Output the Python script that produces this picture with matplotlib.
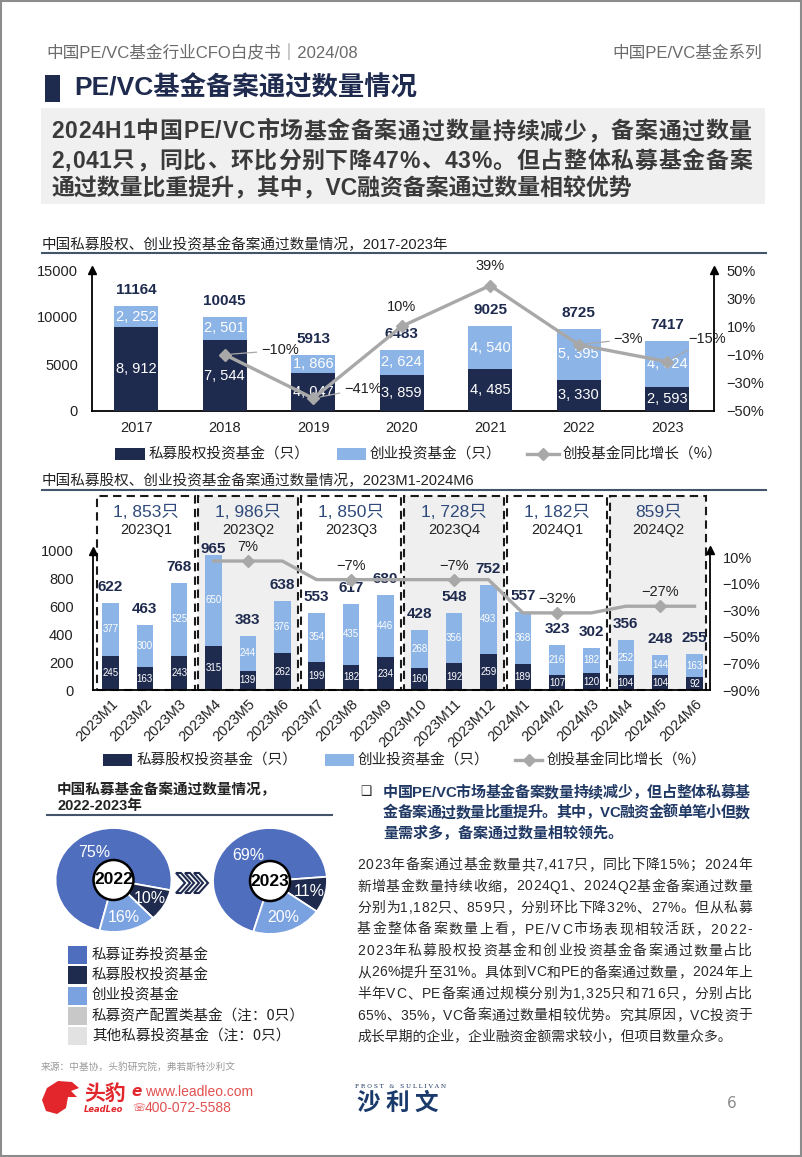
import matplotlib
matplotlib.use('Agg')
import matplotlib.pyplot as plt
import numpy as np
from matplotlib.patches import Rectangle, Polygon, Ellipse
from matplotlib.lines import Line2D
from matplotlib.font_manager import FontProperties

# ---------------- data ----------------
years = ['2017', '2018', '2019', '2020', '2021', '2022', '2023']
pe_year = [8912, 7544, 4047, 3859, 4485, 3330, 2593]
vc_year = [2252, 2501, 1866, 2624, 4540, 5395, 4824]
total_year = [11164, 10045, 5913, 6483, 9025, 8725, 7417]
vc_yoy_year = [np.nan, -10, -41, 10, 39, -3, -15]

months = ['2023M1', '2023M2', '2023M3', '2023M4', '2023M5', '2023M6',
          '2023M7', '2023M8', '2023M9', '2023M10', '2023M11', '2023M12',
          '2024M1', '2024M2', '2024M3', '2024M4', '2024M5', '2024M6']
pe_month = [245, 163, 243, 315, 139, 262, 199, 182, 234, 160, 192, 259, 189, 107, 120, 104, 104, 92]
vc_month = [377, 300, 525, 650, 244, 376, 354, 435, 446, 268, 356, 493, 368, 216, 182, 252, 144, 163]
total_month = [622, 463, 768, 965, 383, 638, 553, 617, 680, 428, 548, 752, 557, 323, 302, 356, 248, 255]
vc_yoy_month = [np.nan, np.nan, np.nan, 7, 7, 7, -7, -7, -7, -7, -7, -7, -32, -32, -32, -27, -27, -27]
quarters = ['2023Q1', '2023Q2', '2023Q3', '2023Q4', '2024Q1', '2024Q2']
quarter_totals = ['1, 853只', '1, 986只', '1, 850只', '1, 728只', '1, 182只', '859只']

pie_labels = ['私募证券投资基金', '私募股权投资基金', '创业投资基金',
              '私募资产配置类基金（注：0只）', '其他私募投资基金（注：0只）']
pie_2022 = [75, 10, 16]
pie_2023 = [69, 11, 20]

# ---------------- style ----------------
W, H = 802, 1157
fig = plt.figure(figsize=(W / 100, H / 100), dpi=100)
fig.patch.set_facecolor('white')
CJK = ['Noto Sans CJK SC', 'DejaVu Sans']
NUM = ['Liberation Sans', 'Noto Sans CJK SC', 'DejaVu Sans']
plt.rcParams['font.family'] = CJK
plt.rcParams['axes.unicode_minus'] = True

NAVY = '#1f2b4e'
LBLUE = '#8cb4e6'
MBLUE = '#4f6ebe'
PBLUE = '#7ba2e0'
LINEG = '#a8a8a8'
TXT = '#222222'

def fx(x):
    return x / W

def fy(y):
    return 1 - y / H

def rect(x0, y0, x1, y1):
    return [x0 / W, 1 - y1 / H, (x1 - x0) / W, (y1 - y0) / H]

renderer = fig.canvas.get_renderer()

def justify(s, x0, x1, y, size, family, weight='normal', color=TXT, full=True):
    fp = FontProperties(family=family, size=size, weight=weight)
    if not full:
        fig.text(fx(x0), fy(y), s, fontproperties=fp, color=color, va='center', ha='left')
        return
    widths = [renderer.get_text_width_height_descent(c, fp, ismath=False)[0] for c in s]
    gap = ((x1 - x0) - sum(widths)) / (len(s) - 1)
    x = x0
    for c, w in zip(s, widths):
        fig.text(fx(x), fy(y), c, fontproperties=fp, color=color, va='center', ha='left')
        x += w + gap

def fmt(v):
    return '{:,}'.format(v).replace(',', ', ')

def pct(v):
    return ('−' if v < 0 else '') + '{}%'.format(abs(int(v)))

# page border
fig.patches.append(Rectangle((1 / W, 1 / H), (W - 2) / W, (H - 2) / H, transform=fig.transFigure,
                             fill=False, ec='#8c8c8c', lw=1.5))

# ---------------- header ----------------
fig.text(fx(46), fy(53), '中国PE/VC基金行业CFO白皮书｜2024/08', fontsize=12, color='#6b6b6b',
         family=NUM, va='center', ha='left')
fig.text(fx(762), fy(53), '中国PE/VC基金系列', fontsize=12, color='#6b6b6b',
         family=NUM, va='center', ha='right')
fig.patches.append(Rectangle((fx(45), fy(102)), 15 / W, 27 / H, transform=fig.transFigure,
                             color='#1f2a4f', lw=0))
fig.text(fx(74), fy(88), 'PE/VC基金备案通过数量情况', fontsize=19, weight='bold', color='#1f2a4f',
         family=NUM, va='center', ha='left')
fig.patches.append(Rectangle((fx(41), fy(204)), (765 - 41) / W, 96 / H, transform=fig.transFigure,
                             color='#f0f0f0', lw=0))
hdr_lines = ['2024H1中国PE/VC市场基金备案通过数量持续减少，备案通过数量',
             '2,041只，同比、环比分别下降47%、43%。但占整体私募基金备案',
             '通过数量比重提升，其中，VC融资备案通过数量相较优势']
for k, (ln, yy) in enumerate(zip(hdr_lines, [132, 161, 189])):
    justify(ln, 51, 752, yy, 16.5, NUM, weight='bold', color='#3a3a3a', full=(k < 2))

# ---------------- chart 1 ----------------
fig.text(fx(42), fy(245), '中国私募股权、创业投资基金备案通过数量情况，2017-2023年', fontsize=10.5,
         color=TXT, family=NUM, va='center', ha='left')
fig.lines.append(Line2D([fx(42), fx(766)], [fy(253), fy(253)], transform=fig.transFigure,
                        color='#44546a', lw=1.5))

ax1 = fig.add_axes(rect(92, 270, 714, 411))
x1 = np.arange(len(years))
ax1.bar(x1, pe_year, width=0.5, color=NAVY, zorder=3)
ax1.bar(x1, vc_year, bottom=pe_year, width=0.5, color=LBLUE, zorder=3)
ax1.set_xlim(-0.5, 6.53)
ax1.set_ylim(0, 15000)
for s in ['top', 'right']:
    ax1.spines[s].set_visible(False)
for s in ['left', 'bottom']:
    ax1.spines[s].set_color('black')
    ax1.spines[s].set_linewidth(1.3)
ax1.plot([0], [1], marker='^', color='black', ms=6, transform=ax1.transAxes, clip_on=False)
ax1.set_yticks([0, 5000, 10000, 15000])
ax1.set_yticklabels(['0', '5000', '10000', '15000'], family=NUM, fontsize=10.5, color=TXT)
ax1.set_xticks(x1)
ax1.set_xticklabels(years, family=NUM, fontsize=10.5, color=TXT)
ax1.tick_params(axis='y', length=0, pad=10)
ax1.tick_params(axis='x', length=0, pad=7)
for i in range(len(years)):
    ax1.text(i, pe_year[i] / 2, fmt(pe_year[i]), ha='center', va='center', color='white',
             family=NUM, fontsize=10.5, zorder=4)
    ax1.text(i, pe_year[i] + vc_year[i] / 2, fmt(vc_year[i]), ha='center', va='center',
             color='white', family=NUM, fontsize=10.5, zorder=4)
    ax1.annotate(str(total_year[i]), (i, total_year[i]), xytext=(0, 11.5),
                 textcoords='offset points', ha='center', va='center', color=NAVY,
                 family=NUM, fontsize=11, weight='bold', zorder=4)

ax1r = ax1.twinx()
ax1r.set_ylim(-50, 50)
ax1r.set_xlim(-0.5, 6.53)
for s in ['top', 'left', 'bottom']:
    ax1r.spines[s].set_visible(False)
ax1r.spines['right'].set_color('black')
ax1r.spines['right'].set_linewidth(1.3)
ax1r.plot([1], [1], marker='^', color='black', ms=6, transform=ax1r.transAxes, clip_on=False)
ax1r.set_yticks([-50, -30, -10, 10, 30, 50])
ax1r.set_yticklabels([pct(v) for v in [-50, -30, -10, 10, 30, 50]], family=NUM,
                     fontsize=10.5, color=TXT)
ax1r.tick_params(axis='y', length=0, pad=9)
ax1r.plot(x1, vc_yoy_year, color=LINEG, lw=2.4, marker='D', ms=6, zorder=5)
# label placement (offsets in points), leader flag
lab_off = [None, (26, 3, True), (22, 7, True), (0, 14, False), (0, 14, False), (25, 4, True),
           (15, 16, True)]
for i, v in enumerate(vc_yoy_year):
    if lab_off[i] is None:
        continue
    dx, dy, lead = lab_off[i]
    kw = {}
    if lead:
        kw['arrowprops'] = dict(arrowstyle='-', color=LINEG, lw=0.9, shrinkA=1, shrinkB=5)
    ax1r.annotate(pct(v), (i, v), xytext=(dx, dy), textcoords='offset points',
                  ha='left' if lead else 'center', va='center', family=NUM, fontsize=10.5,
                  color=TXT, zorder=6, annotation_clip=False, **kw)

# legend rows
def legend_row(y, items):
    for kind, x0, x1_, tx, label in items:
        if kind == 'line':
            fig.lines.append(Line2D([fx(x0), fx(x1_)], [fy(y), fy(y)], transform=fig.transFigure,
                                    color=LINEG, lw=2.4))
            fig.lines.append(Line2D([fx((x0 + x1_) / 2)], [fy(y)], transform=fig.transFigure,
                                    color=LINEG, marker='D', ms=6))
        else:
            fig.patches.append(Rectangle((fx(x0), fy(y + 6)), (x1_ - x0) / W, 12 / H,
                                         transform=fig.transFigure, color=kind, lw=0))
        fig.text(fx(tx), fy(y), label, fontsize=10.5, color=TXT, va='center', ha='left', family=CJK)

legend_row(454, [(NAVY, 115, 145, 149, '私募股权投资基金（只）'),
                 (LBLUE, 337, 366, 370, '创业投资基金（只）'),
                 ('line', 527, 559, 563, '创投基金同比增长（%）')])

# ---------------- chart 2 ----------------
fig.text(fx(42), fy(481), '中国私募股权、创业投资基金备案通过数量情况，2023M1-2024M6', fontsize=10.5,
         color=TXT, family=NUM, va='center', ha='left')
fig.lines.append(Line2D([fx(42), fx(766)], [fy(490), fy(490)], transform=fig.transFigure,
                        color='#44546a', lw=1.5))

ax2 = fig.add_axes(rect(93, 496, 710, 690))
x2 = np.arange(len(months))
YTOP = 1387
ax2.set_xlim(-0.51, 17.45)
ax2.set_ylim(0, YTOP)
edges = [-0.42, 2.5, 5.5, 8.5, 11.5, 14.5, 17.38]
for q in range(len(quarters)):
    a, b = edges[q] + 0.035, edges[q + 1] - 0.035
    ax2.add_patch(Rectangle((a, 0), b - a, YTOP - 3, facecolor=('#efefef' if q % 2 else 'white'),
                            edgecolor='none', zorder=1))
    ax2.add_patch(Rectangle((a, 0), b - a, YTOP - 3, fill=False, edgecolor='#1a1a1a', lw=1.5,
                            ls=(0, (4, 2.5)), zorder=2, clip_on=False))
    xm = (edges[q] + edges[q + 1]) / 2
    ax2.text(xm, 0.917 * YTOP, quarter_totals[q], ha='center', va='center', family=NUM,
             fontsize=12.5, color='#2f4a7a', zorder=4)
    ax2.text(xm, 0.825 * YTOP, quarters[q], ha='center', va='center', family=NUM,
             fontsize=10.5, color=TXT, zorder=4)

ax2.bar(x2, pe_month, width=0.48, color=NAVY, zorder=3)
ax2.bar(x2, vc_month, bottom=pe_month, width=0.48, color=LBLUE, zorder=3)
tot_off = [11.5] * len(months)
tot_off[3] = 4.5
for i in range(len(months)):
    ax2.text(i, pe_month[i] / 2, str(pe_month[i]), ha='center', va='center', color='white',
             family=NUM, fontsize=7, zorder=4)
    ax2.text(i, pe_month[i] + vc_month[i] / 2, str(vc_month[i]), ha='center', va='center',
             color='white', family=NUM, fontsize=7, zorder=4)
    ax2.annotate(str(total_month[i]), (i, total_month[i]), xytext=(0, tot_off[i]),
                 textcoords='offset points', ha='center', va='center', color=NAVY,
                 family=NUM, fontsize=11, weight='bold', zorder=4)
for s in ['top', 'right']:
    ax2.spines[s].set_visible(False)
ax2.spines['left'].set_bounds(0, 995)
for s in ['left', 'bottom']:
    ax2.spines[s].set_color('black')
    ax2.spines[s].set_linewidth(1.3)
    ax2.spines[s].set_zorder(5)
ax2.plot([-0.51], [995], marker='^', color='black', ms=6, clip_on=False, zorder=6)
ax2.set_yticks([0, 200, 400, 600, 800, 1000])
ax2.set_yticklabels(['0', '200', '400', '600', '800', '1000'], family=NUM, fontsize=10.5, color=TXT)
ax2.tick_params(axis='y', length=0, pad=14)
ax2.set_xticks(x2)
ax2.set_xticklabels(months, family=NUM, fontsize=10.5, color=TXT, rotation=45, ha='right',
                    rotation_mode='anchor')
ax2.tick_params(axis='x', length=0, pad=5)

ax2r = ax2.twinx()
R0, R1 = -90, 55.9
ax2r.set_ylim(R0, R1)
ax2r.set_xlim(-0.51, 17.45)
for s in ['top', 'left', 'bottom']:
    ax2r.spines[s].set_visible(False)
ax2r.spines['right'].set_bounds(R0, 15)
ax2r.spines['right'].set_color('black')
ax2r.spines['right'].set_linewidth(1.3)
ax2r.plot([17.45], [15], marker='^', color='black', ms=6, clip_on=False)
ax2r.set_yticks([-90, -70, -50, -30, -10, 10])
ax2r.set_yticklabels([pct(v) for v in [-90, -70, -50, -30, -10, 10]], family=NUM,
                     fontsize=10.5, color=TXT)
ax2r.tick_params(axis='y', length=0, pad=9)
ax2r.plot(x2, vc_yoy_month, color=LINEG, lw=2.4, zorder=5)
mid = [4, 7, 10, 13, 16]
ax2r.plot(x2[mid], [vc_yoy_month[i] for i in mid], ls='none', marker='D', ms=6.5, color=LINEG,
          zorder=6)
for i in mid:
    ax2r.annotate(pct(vc_yoy_month[i]), (i, vc_yoy_month[i]), xytext=(0, 10),
                  textcoords='offset points', ha='center', va='center', family=NUM,
                  fontsize=10.5, color=TXT, zorder=6)

legend_row(760, [(NAVY, 103, 132, 137, '私募股权投资基金（只）'),
                 (LBLUE, 325, 354, 358, '创业投资基金（只）'),
                 ('line', 515, 542, 547, '创投基金同比增长（%）')])

# ---------------- pies ----------------
fig.text(fx(57), fy(790), '中国私募基金备案通过数量情况，', fontsize=10.5, weight='bold', color=TXT,
         va='center', ha='left', family=NUM)
fig.text(fx(57), fy(806), '2022-2023年', fontsize=10.5, weight='bold', color=TXT,
         va='center', ha='left', family=NUM)
fig.lines.append(Line2D([fx(47), fx(332)], [fy(815), fy(815)], transform=fig.transFigure,
                        color='#44546a', lw=1.5))

pie_cols = [MBLUE, NAVY, PBLUE, '#c8c8c8', '#e2e2e2']

def draw_pie(cx, cy, rx, ry, vals, start, year, rlab):
    ax = fig.add_axes(rect(cx - rx, cy - ry, cx + rx, cy + ry))
    wedges, _ = ax.pie(vals, colors=pie_cols[:3], startangle=start, counterclock=False,
                       wedgeprops=dict(edgecolor='white', linewidth=1.3), radius=1)
    ax.set_aspect('auto')
    ax.set_xlim(-1, 1)
    ax.set_ylim(-1, 1)
    ax.axis('off')
    for w, v, r in zip(wedges, vals, rlab):
        th = np.deg2rad((w.theta1 + w.theta2) / 2)
        ax.text(r * np.cos(th), r * np.sin(th), '{}%'.format(v), ha='center', va='center',
                color='white', fontsize=11.5, family=['Liberation Sans', 'DejaVu Sans'])
    ax.add_patch(Ellipse((0, 0), 2 * 20 / rx, 2 * 20 / ry, facecolor='white', edgecolor='black',
                         lw=1.8, zorder=5))
    ax.text(0, 0, year, ha='center', va='center', fontsize=12.5, weight='bold', color='black',
            family=['Liberation Sans', 'DejaVu Sans'], zorder=6)

draw_pie(113.5, 880, 58, 52, pie_2022, -104, '2022', [0.62, 0.72, 0.74])
draw_pie(270, 881, 57, 53, pie_2023, -107, '2023', [0.62, 0.72, 0.72])

# chevrons
for k in range(3):
    x0 = 176 + k * 9
    pts = [(x0, 873), (x0 + 5, 873), (x0 + 14, 883), (x0 + 5, 893), (x0, 893), (x0 + 9, 883)]
    fig.patches.append(Polygon([(fx(a), fy(b)) for a, b in pts], closed=True,
                               transform=fig.transFigure, facecolor='white', edgecolor=NAVY,
                               lw=1.5))

for k, (lab, col) in enumerate(zip(pie_labels, pie_cols)):
    yy = 955 + k * 20.3
    fig.patches.append(Rectangle((fx(68), fy(yy + 9)), 19 / W, 18 / H, transform=fig.transFigure,
                                 color=col, lw=0))
    fig.text(fx(92), fy(yy), lab, fontsize=10.5, color=TXT, va='center', ha='left', family=CJK)

# ---------------- right text ----------------
fig.text(fx(366), fy(792), '❑', fontsize=9, color=TXT, va='center', ha='center',
         family=['DejaVu Sans'])
bold_lines = ['中国PE/VC市场基金备案数量持续减少，但占整体私募基',
              '金备案通过数量比重提升。其中，VC融资金额单笔小但数',
              '量需求多，备案通过数量相较领先。']
for k, ln in enumerate(bold_lines):
    justify(ln, 383, 750, 793 + 20 * k, 10.8, NUM, weight='bold', color='#1f3864', full=(k < 2))

body_lines = ['2023年备案通过基金数量共7,417只，同比下降15%；2024年',
              '新增基金数量持续收缩，2024Q1、2024Q2基金备案通过数量',
              '分别为1,182只、859只，分别环比下降32%、27%。但从私募',
              '基金整体备案数量上看，PE/VC市场表现相较活跃，2022-',
              '2023年私募股权投资基金和创业投资基金备案通过数量占比',
              '从26%提升至31%。具体到VC和PE的备案通过数量，2024年上',
              '半年VC、PE备案通过规模分别为1,325只和716只，分别占比',
              '65%、35%，VC备案通过数量相较优势。究其原因，VC投资于',
              '成长早期的企业，企业融资金额需求较小，但项目数量众多。']
for k, ln in enumerate(body_lines):
    justify(ln, 357, 752, 865 + 21.5 * k, 10, NUM, color='#2a2a2a', full=(k < 8))

# ---------------- footer ----------------
fig.text(fx(41), fy(1067), '来源：中基协，头豹研究院，弗若斯特沙利文', fontsize=7, color='#9a9a9a',
         va='center', ha='left', family=CJK)
head = [(42, 1100), (47, 1088), (58, 1081), (72, 1082), (79, 1088), (71, 1091), (77, 1097),
        (68, 1097), (66, 1108), (57, 1114), (46, 1111)]
fig.patches.append(Polygon([(fx(a), fy(b)) for a, b in head], closed=True,
                           transform=fig.transFigure, facecolor='#e2262c', edgecolor='none'))
fig.text(fx(84), fy(1093), '头豹', fontsize=15, weight='bold', color='#e2262c', va='center',
         ha='left', family=CJK)
fig.text(fx(84), fy(1109), 'LeadLeo', fontsize=6, weight='bold', style='italic',
         color='#e2262c', va='center', ha='left', family=['DejaVu Sans'])
fig.text(fx(131), fy(1092), 'e', fontsize=11, weight='bold', style='italic', color='#e2262c',
         va='center', ha='left', family=['DejaVu Sans'])
fig.text(fx(132), fy(1108), '☏', fontsize=7.5, color='#e2262c', va='center', ha='left',
         family=['DejaVu Sans'])
fig.text(fx(145), fy(1092), 'www.leadleo.com', fontsize=10, color='#e25050', va='center',
         ha='left', family=NUM)
fig.text(fx(145), fy(1108), '400-072-5588', fontsize=10, color='#e25050', va='center',
         ha='left', family=NUM)
fig.text(fx(401), fy(1086), 'F R O S T   &   S U L L I V A N', fontsize=4.2, color='#1a3560',
         va='center', ha='center', family=['DejaVu Serif'])
fig.text(fx(398), fy(1103), '沙 利 文', fontsize=17, weight='bold', color='#1a3a6b',
         va='center', ha='center', family=CJK)
fig.text(fx(732), fy(1103), '6', fontsize=11, color='#8a8a8a', va='center', ha='center',
         family=['DejaVu Sans'])

fig.savefig('out.png', dpi=100)
